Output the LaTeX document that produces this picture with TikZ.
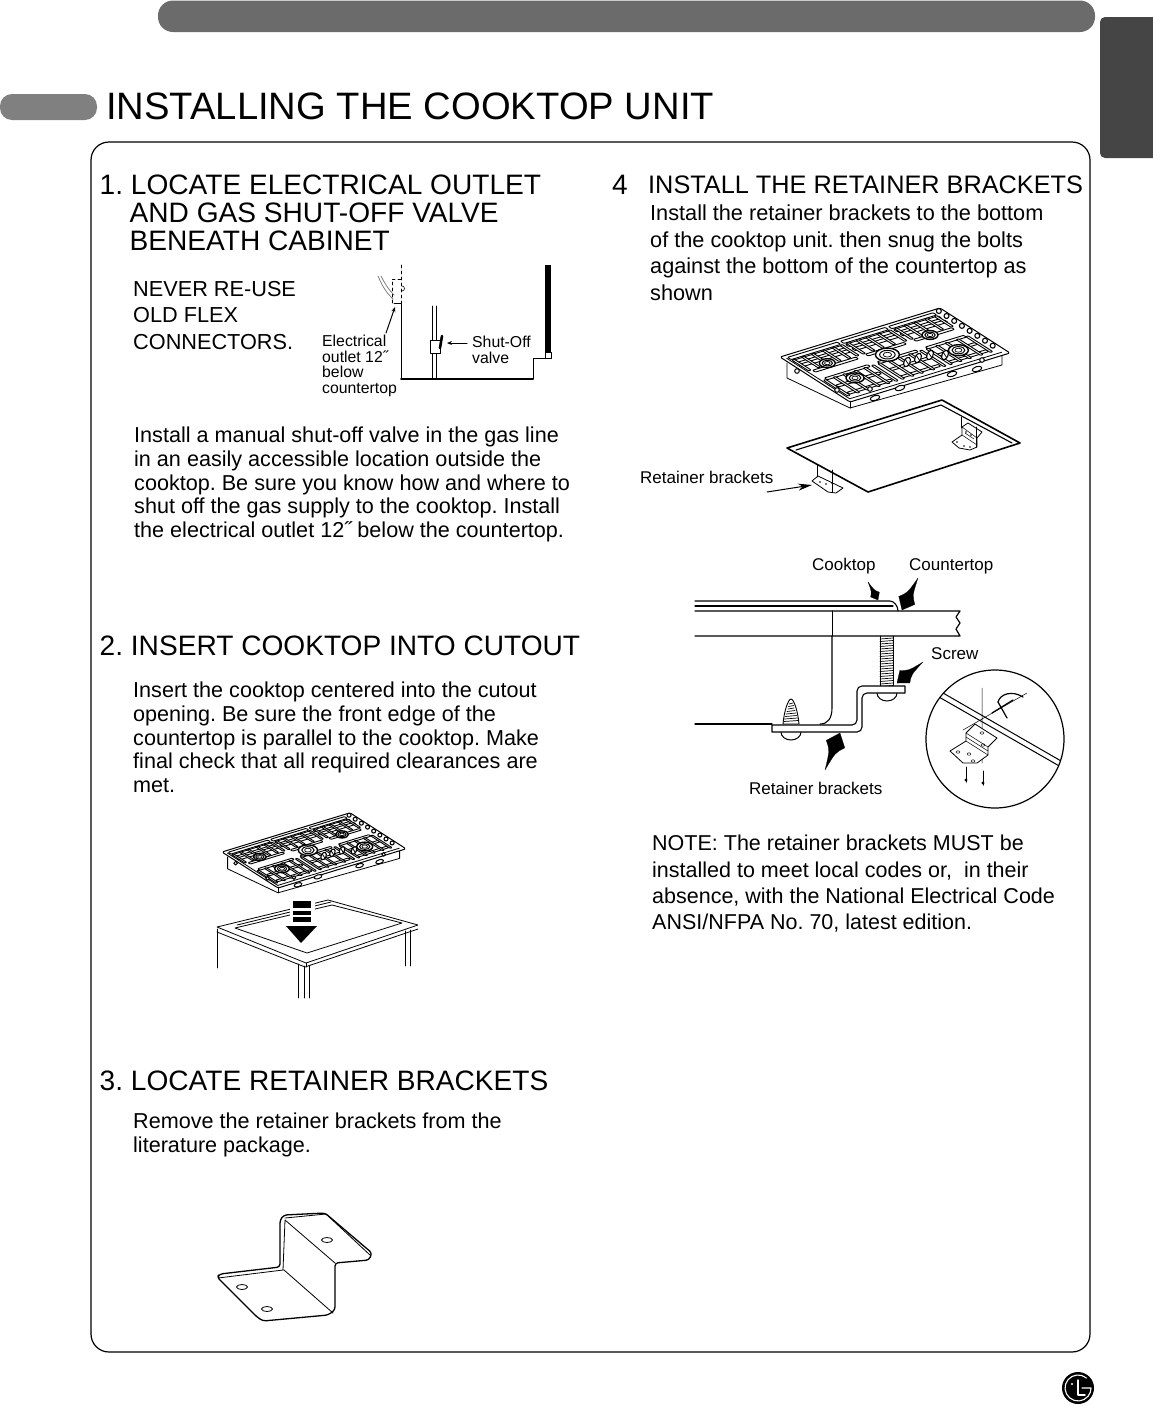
\documentclass[tikz,border=0pt]{standalone}
\usepackage{fontspec}
\setmainfont{Liberation Sans}
\usetikzlibrary{arrows.meta, calc}

\definecolor{bargray}{gray}{0.42}
\definecolor{tabgray}{gray}{0.27}
\definecolor{pillgray}{gray}{0.5}

\newcommand{\wedgearrow}[3]{
  \draw[line width=0.2pt, fill=black] (#1) .. controls ($(#1)!0.5!(#2)!0.3*#3pt!90:(#2)$) .. ($(#1)!0.7!(#2)!#3pt!90:(#2)$) -- (#2) -- ($(#1)!0.7!(#2)!#3pt!-90:(#2)$) .. controls ($(#1)!0.5!(#2)!0.3*#3pt!-90:(#2)$) .. (#1) -- cycle;
}
\newcommand{\ribbox}[4]{
  \draw[ribbar] (#1,#2) -- (#3,#2) -- (#3,#4) -- (#1,#4) -- cycle;
}

\tikzset{
  headtext/.style={anchor=north west, align=left, inner sep=0pt, font=\fontsize{28.1}{28}\selectfont},
  bodytext/.style={anchor=north west, align=left, inner sep=0pt, font=\fontsize{21.6}{23.7}\selectfont},
  widetext/.style={anchor=north west, align=left, inner sep=0pt, font=\fontsize{21.7}{26.4}\selectfont},
  labeltext/.style={anchor=north west, align=left, inner sep=0pt, font=\fontsize{17}{20}\selectfont},
  tinytext/.style={anchor=north west, align=left, inner sep=0pt, font=\fontsize{15.8}{15.5}\selectfont},
  thinline/.style={line width=0.8pt},
  ribbar/.style={line width=0.9pt, fill=white, rounded corners=0.8pt},
  pics/cooktop/.style={code={
    % body under the plate
    \draw[thinline, fill=white] (7pt,-6pt) -- (7pt,-21pt) -- (70pt,-51pt) -- (222pt,-8pt) -- (222pt,2pt);
    \draw[thinline] (70pt,-45pt) -- (70pt,-51pt);
    \begin{scope}[x={(160pt,49pt)}, y={(70pt,-45pt)}]
      % plate
      \draw[line width=1pt, fill=white, rounded corners=1.5pt] (0,0) -- (0,1) -- (1,1) -- (1,0) -- cycle;
      \draw[thinline] (0.02,0.05) -- (0.02,0.95) -- (0.97,0.95);
      % grates, long bars
      \foreach \s/\e in {0.03/0.34,0.36/0.64,0.66/0.94} {
        \foreach \t in {0.35,0.52,0.68,0.84} {
          \ribbox{\s+0.02}{\t}{\e-0.02}{\t+0.04}
        }
        \ribbox{\s}{0.04}{\e}{0.09}
        \ribbox{\s}{0.11}{\e}{0.16}
        \ribbox{\s}{0.20}{\e}{0.25}
      }
      % grates, cross bars
      \foreach \s in {0.03,0.09,0.15,0.22,0.28,0.33,0.37,0.43,0.49,0.56,0.63,0.67,0.73,0.79,0.86,0.92} {
        \ribbox{\s}{0.10}{\s+0.016}{0.34}
        \ribbox{\s}{0.55}{\s+0.016}{0.90}
      }
      % bumps on the right edge
      \foreach \t in {0.04,0.15,0.26,0.37,0.48,0.59,0.70,0.81} {
        \draw[line width=1.1pt, fill=white] (0.975,\t) circle (2.5pt);
      }
      % burners
      \foreach \s/\t/\r in {0.16/0.31/8,0.18/0.66/9,0.47/0.46/12,0.78/0.36/8,0.80/0.72/10} {
        \draw[line width=1.4pt, fill=white] (\s,\t) ellipse [x radius=\r pt, y radius=0.55*\r pt];
        \draw[line width=1pt] (\s,\t) ellipse [x radius=0.65*\r pt, y radius=0.36*\r pt];
        \draw[line width=0.7pt] (\s,\t) ellipse [x radius=0.35*\r pt, y radius=0.2*\r pt];
      }
    \end{scope}
    % knobs
    \foreach \x/\y in {127/-5,138/-1,150/2,165/2} {
      \draw[line width=1.1pt, fill=white, rotate around={-25:(\x pt,\y pt)}] (\x pt,\y pt) ellipse [x radius=3pt, y radius=5pt];
      \draw[line width=0.8pt] (\x pt-2pt,\y pt+3pt) -- (\x pt+2pt,\y pt-3pt);
    }
    % side slots and feet
    \foreach \x/\y in {95/-41,120/-31,172/-17,197/-12} {
      \draw[line width=1pt, fill=white, rotate around={17:(\x pt,\y pt)}] (\x pt,\y pt) ellipse [x radius=5pt, y radius=2.4pt];
    }
    \foreach \x/\y in {17/-14,57/-33,90/-32,202/-3} {
      \draw[line width=1pt, fill=white] (\x pt,\y pt) circle (2.3pt);
    }
  }},
  pics/minibracket/.style={code={
    \draw[thinline, fill=white] (-13,4) -- (-3,-3) -- (-3,-11) -- (3,-15) -- (17,-6) -- (12,0) -- (12,9) -- (5,12) -- (-6,10) -- cycle;
    \draw[line width=0.5pt] (-3,-3) -- (12,7) (-3,-11) -- (12,0) (0,-5) -- (9,1);
    \foreach \x/\y in {-8/4,-1/8,5/9,1/-6,6/-3} {
      \fill (\x,\y) circle (0.9pt);
    }
  }}
}

\begin{document}
\frenchspacing
\begin{tikzpicture}[x=1pt, y=-1pt, line cap=round, line join=round]
  \useasboundingbox (0,0) rectangle (1152,1406);

  % page furniture
  \fill[bargray, rounded corners=15pt] (158,0.5) rectangle (1095,32);
  \fill[tabgray, rounded corners=5pt] (1153,17) -- (1100,17) -- (1100,158) -- (1153,158);
  \fill[pillgray, rounded corners=12pt] (0,94) rectangle (97,120);
  \node[anchor=base west, inner sep=0pt, font=\fontsize{38.2}{40}\selectfont] (title) at (106,119) {INSTALLING THE COOKTOP UNIT};
  \draw[line width=1.2pt, rounded corners=18pt] (91,142) rectangle (1090,1352);
  \fill (1078,1388) circle (16);
  \draw[white, line width=1.1pt] (1086.4,1378) arc [start angle=-50, end angle=-360, radius=13] -- (1082,1388);
  \draw[white, line width=1.4pt] (1078,1380) -- (1078,1395) -- (1085,1395);
  \fill[white] (1072,1384) circle (1.2);

  % section 1
  \node[headtext] (head1) at (99.5,175) {1. LOCATE ELECTRICAL OUTLET\\\hspace*{30pt}AND GAS SHUT-OFF VALVE\\\hspace*{30pt}BENEATH CABINET};
  \node[widetext] (never) at (133,281) {NEVER RE-USE\\OLD FLEX\\CONNECTORS.};
  \node[tinytext] (outlet) at (322,335) {Electrical\\outlet 12˝\\below\\countertop};
  \node[tinytext] (shutoff) at (472,336) {Shut-Off\\valve};
  \coordinate (outlettip) at (395,307);
  \coordinate (outlettail) at (386,333);
  \coordinate (valvetip) at (447,343);
  \coordinate (valvetail) at (467,343);
  \draw[line width=1pt, -{Stealth[length=5pt, width=4pt]}] (outlettail) -- (outlettip);
  \draw[line width=1pt, -{Stealth[length=5pt, width=4pt]}] (valvetail) -- (valvetip);
  \draw[line width=0.8pt, dashed] (401,265) -- (401,303);
  \draw[line width=0.8pt, dashed] (392,303) -- (392,279) -- (401,279);
  \draw[line width=1pt] (394,303) -- (401,303) -- (401,379);
  \draw[line width=1.8pt] (401,379) -- (533,379);
  \draw[line width=1pt] (533,379) -- (533,358) -- (551,358);
  \fill (545,265) rectangle (551,352);
  \draw[line width=0.7pt] (545,352) rectangle (551,358);
  \draw[thinline] (432.5,306) -- (432.5,379) (436.5,306) -- (436.5,379);
  \draw[thinline, fill=white] (430,340) rectangle (440,353);
  \draw[line width=2.6pt] (442,336) -- (440,348);
  \draw[line width=0.6pt] (402,286) arc [start angle=-90, end angle=90, radius=2.5];
  \draw[gray, thinline] (378,276) .. controls (383,288) and (387,293) .. (393,299);
  \draw[gray, thinline] (381,276) .. controls (386,286) and (390,291) .. (394,295);
  \node[bodytext] (body1) at (134,427) {Install a manual shut-off valve in the gas line\\in an easily accessible location outside the\\cooktop. Be sure you know how and where to\\shut off the gas supply to the cooktop. Install\\the electrical outlet 12˝ below the countertop.};

  % section 2
  \node[headtext] (head2) at (99.5,636) {2. INSERT COOKTOP INTO CUTOUT};
  \node[bodytext] (body2) at (133,682) {Insert the cooktop centered into the cutout\\opening. Be sure the front edge of the\\countertop is parallel to the cooktop. Make\\final check that all required clearances are\\met.};
  \pic[scale=0.8] at (222,852) {cooktop};
  \draw[thinline, fill=white] (217,927) -- (328,900) -- (418,925) -- (306,963) -- cycle;
  \draw[thinline] (235,928) -- (332,905) -- (402,923) -- (307,953) -- cycle;
  \draw[thinline] (237,925) -- (331,902);
  \draw[thinline] (217,932) -- (305,967) -- (418,929);
  \draw[thinline] (306,963) -- (306,967);
  \draw[thinline] (217,929) -- (217,968);
  \draw[thinline] (298,964) -- (298,998) (304,966) -- (304,998) (309,966) -- (309,998);
  \draw[thinline] (405,931) -- (405,966) (410,930) -- (410,966);
  \fill[white] (290,897) rectangle (315,925);
  \foreach \y/\h in {901/7,911/4,917/5} {
    \fill (293,\y) rectangle (311,\y+\h);
  }
  \fill (286,926) -- (317,926) -- (301,943) -- cycle;

  % section 3
  \node[headtext] (head3) at (99.5,1071) {3. LOCATE RETAINER BRACKETS};
  \node[bodytext] (body3) at (133,1113) {Remove the retainer brackets from the\\literature package.};
  \draw[line width=1.3pt, rounded corners=3pt, fill=white] (217,1277) -- (220,1274) -- (280,1267) -- (280,1220) -- (284,1215) -- (325,1213) -- (372,1253) -- (369,1260) -- (335,1263) -- (335,1310) -- (328,1315) -- (263,1321) -- (257,1317) -- cycle;
  \draw[thinline] (285,1220) -- (335,1263) (284,1270) -- (333,1313) (285,1220) -- (283,1270) -- (218,1278) (285,1218) -- (326,1214) -- (370,1255);
  \foreach \x/\y in {327/1240,242/1287,267/1309} {
    \draw[thinline] (\x,\y) ellipse [x radius=5.5, y radius=2.5];
  }

  % section 4
  \node[headtext] (num4) at (612,175) {4};
  \node[headtext, font=\fontsize{25.3}{29}\selectfont] (head4) at (648,176) {INSTALL THE RETAINER BRACKETS};
  \node[widetext] (body4) at (650,205) {Install the retainer brackets to the bottom\\of the cooktop unit. then snug the bolts\\against the bottom of the countertop as\\shown};
  \pic at (780,357) {cooktop};
  \draw[line width=1.6pt, fill=white] (787,448) -- (942,400) -- (1020,443) -- (868,492) -- cycle;
  \draw[line width=1.1pt] (796,450) -- (941,405) -- (1012,443);
  \pic at (965,438) {minibracket};
  \draw[thinline] (961,417) -- (961,428) (976,427) -- (976,447);
  \draw[thinline, fill=white] (812,481) -- (818,476) -- (843,488) -- (836,493) -- (828,492) -- cycle;
  \draw[thinline] (817,465) -- (817,477) (832,470) -- (832,492);
  \foreach \x/\y in {820/482,826/484,832/483} {
    \fill (\x,\y) circle (0.9pt);
  }
  \node[labeltext] (retainer1) at (640,471) {Retainer brackets};
  \coordinate (rettip) at (812,485);
  \coordinate (rettail) at (767,492);
  \draw[line width=1pt, -{Stealth[length=14pt, width=7pt]}] (rettail) -- (rettip);

  % section view
  \node[labeltext] (cooktoplbl) at (812,558) {Cooktop};
  \node[labeltext] (counterlbl) at (909,558) {Countertop};
  \node[labeltext] (screwlbl) at (931,647) {Screw};
  \node[labeltext] (retainer2) at (749,782) {Retainer brackets};
  \draw[line width=1.1pt] (695,601) -- (890,601) .. controls (894,601) and (898,606) .. (898,611);
  \draw[line width=1.1pt] (695,606) -- (893,606);
  \draw[line width=1.2pt] (695,611) -- (960,611) -- (956,617) -- (960,623) -- (956,629) -- (960,636) -- (695,636);
  \draw[line width=0.7pt] (832,611) -- (832,636);
  \draw[line width=1.1pt] (832,636) -- (832,708) .. controls (832,718) and (828,724) .. (820,724);
  \draw[line width=1.2pt] (695,724) -- (772,724);
  \foreach \y in {638,640.5,...,688} {
    \draw[line width=0.7pt] (880,\y+1) -- (893,\y);
  }
  \draw[line width=0.9pt] (880,636) -- (880,688) (893,636) -- (893,688);
  \draw[line width=1pt] (877,693) arc [start angle=180, end angle=0, x radius=10, y radius=8];
  \draw[line width=1pt] (781,732) arc [start angle=180, end angle=0, x radius=10, y radius=8];
  \draw[line width=1.1pt, fill=white] (772,725) [rounded corners=5pt] -- (857,725) -- (857,686) [sharp corners] -- (905,686) -- (905,693) [rounded corners=5pt] -- (862,693) -- (862,732) [sharp corners] -- (772,732) -- cycle;
  \draw[line width=0.9pt, fill=white] (783,724) .. controls (784,712) and (788,699) .. (791,699) .. controls (794,699) and (798,712) .. (799,724) -- cycle;
  \foreach \y/\w in {703/2,705.5/2.5,708/3,710.5/4,713/5,715.5/5.5,718/6.5,720.5/7} {
    \draw[line width=0.7pt] (791-\w,\y+1) -- (791+\w,\y);
  }
  \coordinate (cooktail) at (868,582);
  \coordinate (cooktip) at (878,600);
  \coordinate (countail) at (918,578);
  \coordinate (countip) at (902,610);
  \coordinate (screwtail) at (923,662);
  \coordinate (screwtip) at (897,683);
  \coordinate (rettail2) at (825,770);
  \coordinate (rettip2) at (840,733);
  \wedgearrow{cooktail}{cooktip}{5}
  \wedgearrow{countail}{countip}{9}
  \wedgearrow{screwtail}{screwtip}{8}
  \wedgearrow{rettail2}{rettip2}{10}

  % detail circle
  \draw[line width=1.2pt] (995,739) circle (69);
  \begin{scope}
    \clip (995,739) circle (69);
    \draw[line width=1pt] (925,689) -- (1075,775) (930,685.5) -- (1075,769);
  \end{scope}
  \draw[line width=0.5pt] (982,688) -- (982,763) (963,730) -- (1027,693);
  \draw[thinline, fill=white] (950,751) -- (966,741) -- (966,733) -- (975,724) -- (997,738) -- (988,747) -- (988,755) -- (977,763) -- (963,763) -- cycle;
  \draw[line width=0.5pt] (966,741) -- (988,755) (966,733) -- (988,747) (966,737) -- (988,751);
  \foreach \x/\y in {958/752,969/754,973/761,982/733,983/745} {
    \draw[line width=0.5pt] (\x,\y) ellipse [x radius=2, y radius=1.2];
  }
  \draw[line width=1pt] (966,767) -- (966,782) (983,771) -- (983,785);
  \fill (966,780) circle (1.6) (983,783) circle (1.6);
  \draw[line width=1.2pt] (992,713) -- (1013,700);
  \draw[line width=1.2pt] (998,702) -- (1007,718);
  \draw[line width=1.2pt] (998,702) .. controls (1000,694) and (1012,690) .. (1023,697);

  % note
  \node[widetext, font=\fontsize{21.5}{26.4}\selectfont] (note) at (652,835) {NOTE: The retainer brackets MUST be\\installed to meet local codes or,~~in their\\absence, with the National Electrical Code\\ANSI/NFPA No. 70, latest edition.};
\end{tikzpicture}
\end{document}
